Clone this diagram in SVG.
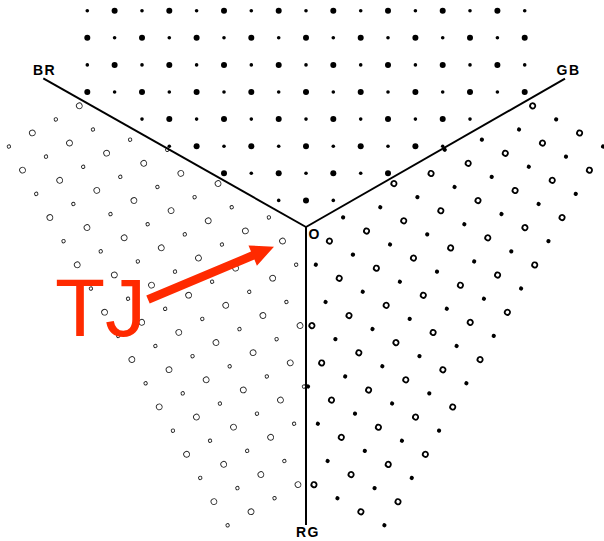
<svg xmlns="http://www.w3.org/2000/svg" width="604" height="541" viewBox="0 0 604 541">
<style>
.pts{fill:none;stroke:none}
.axis{stroke:#000;stroke-width:2;fill:none;stroke-linecap:butt}
.lbl{font-family:"Liberation Sans",Arial,sans-serif;font-weight:bold;font-size:14px;letter-spacing:1.5px;fill:#000}
.tj{font-family:"Liberation Sans",Arial,sans-serif;font-size:82px;fill:#ff2a00}
</style>
<defs>
<marker id="mTopBig" markerUnits="userSpaceOnUse" viewBox="0 0 10 10" refX="5" refY="5" markerWidth="10" markerHeight="10" overflow="visible"><circle cx="5" cy="5" r="3" fill="#000"/></marker>
<marker id="mTopSmall" markerUnits="userSpaceOnUse" viewBox="0 0 10 10" refX="5" refY="5" markerWidth="10" markerHeight="10" overflow="visible"><circle cx="5" cy="5" r="1.8" fill="#000"/></marker>
<marker id="mRBig" markerUnits="userSpaceOnUse" viewBox="0 0 10 10" refX="5" refY="5" markerWidth="10" markerHeight="10" overflow="visible"><circle cx="5" cy="5" r="2.6" fill="#fff" stroke="#000" stroke-width="1.8"/></marker>
<marker id="mRSmall" markerUnits="userSpaceOnUse" viewBox="0 0 10 10" refX="5" refY="5" markerWidth="10" markerHeight="10" overflow="visible"><circle cx="5" cy="5" r="2.1" fill="#000"/></marker>
<marker id="mLBig" markerUnits="userSpaceOnUse" viewBox="0 0 10 10" refX="5" refY="5" markerWidth="10" markerHeight="10" overflow="visible"><circle cx="5" cy="5" r="2.9" fill="#fff" stroke="#222" stroke-width="0.9"/></marker>
<marker id="mLSmall" markerUnits="userSpaceOnUse" viewBox="0 0 10 10" refX="5" refY="5" markerWidth="10" markerHeight="10" overflow="visible"><circle cx="5" cy="5" r="1.7" fill="#fff" stroke="#222" stroke-width="0.9"/></marker>
</defs>

<g id="region-top">
<path class="pts" marker-start="url(#mTopBig)" marker-mid="url(#mTopBig)" marker-end="url(#mTopBig)" d="M114.6 10.7 169.3 10.7 224 10.7 278.7 10.7 333.3 10.7 388 10.7 442.7 10.7 497.4 10.7 87.3 37.8 142 37.8 196.6 37.8 251.3 37.8 306 37.8 360.7 37.8 415.4 37.8 470 37.8 524.7 37.8 114.6 64.9 169.3 64.9 224 64.9 278.7 64.9 333.3 64.9 388 64.9 442.7 64.9 497.4 64.9 87.3 92 142 92 196.6 92 251.3 92 306 92 360.7 92 415.4 92 470 92 524.7 92 169.3 119.1 224 119.1 278.7 119.1 333.3 119.1 388 119.1 442.7 119.1 196.6 146.2 251.3 146.2 306 146.2 360.7 146.2 415.4 146.2 224 173.3 278.7 173.3 333.3 173.3 388 173.3 306 200.4"/>
<path class="pts" marker-start="url(#mTopSmall)" marker-mid="url(#mTopSmall)" marker-end="url(#mTopSmall)" d="M87.3 10.7 142 10.7 196.6 10.7 251.3 10.7 306 10.7 360.7 10.7 415.4 10.7 470 10.7 524.7 10.7 114.6 37.8 169.3 37.8 224 37.8 278.7 37.8 333.3 37.8 388 37.8 442.7 37.8 497.4 37.8 87.3 64.9 142 64.9 196.6 64.9 251.3 64.9 306 64.9 360.7 64.9 415.4 64.9 470 64.9 524.7 64.9 114.6 92 169.3 92 224 92 278.7 92 333.3 92 388 92 442.7 92 497.4 92 142 119.1 196.6 119.1 251.3 119.1 306 119.1 360.7 119.1 415.4 119.1 470 119.1 169.3 146.2 224 146.2 278.7 146.2 333.3 146.2 388 146.2 442.7 146.2 251.3 173.3 306 173.3 360.7 173.3 278.7 200.4 333.3 200.4"/>
</g>

<g id="region-right" transform="rotate(120 306 227.5)">
<path class="pts" marker-start="url(#mRBig)" marker-mid="url(#mRBig)" marker-end="url(#mRBig)" d="M114.6 10.7 169.3 10.7 224 10.7 278.7 10.7 333.3 10.7 388 10.7 442.7 10.7 497.4 10.7 87.3 37.8 142 37.8 196.6 37.8 251.3 37.8 306 37.8 360.7 37.8 415.4 37.8 470 37.8 524.7 37.8 114.6 64.9 169.3 64.9 224 64.9 278.7 64.9 333.3 64.9 388 64.9 442.7 64.9 497.4 64.9 87.3 92 142 92 196.6 92 251.3 92 306 92 360.7 92 415.4 92 470 92 524.7 92 169.3 119.1 224 119.1 278.7 119.1 333.3 119.1 388 119.1 442.7 119.1 196.6 146.2 251.3 146.2 306 146.2 360.7 146.2 415.4 146.2 224 173.3 278.7 173.3 333.3 173.3 388 173.3 306 200.4"/>
<path class="pts" marker-start="url(#mRSmall)" marker-mid="url(#mRSmall)" marker-end="url(#mRSmall)" d="M87.3 10.7 142 10.7 196.6 10.7 251.3 10.7 306 10.7 360.7 10.7 415.4 10.7 470 10.7 524.7 10.7 114.6 37.8 169.3 37.8 224 37.8 278.7 37.8 333.3 37.8 388 37.8 442.7 37.8 497.4 37.8 87.3 64.9 142 64.9 196.6 64.9 251.3 64.9 306 64.9 360.7 64.9 415.4 64.9 470 64.9 524.7 64.9 114.6 92 169.3 92 224 92 278.7 92 333.3 92 388 92 442.7 92 497.4 92 142 119.1 196.6 119.1 251.3 119.1 306 119.1 360.7 119.1 415.4 119.1 470 119.1 169.3 146.2 224 146.2 278.7 146.2 333.3 146.2 388 146.2 442.7 146.2 251.3 173.3 306 173.3 360.7 173.3 278.7 200.4 333.3 200.4"/>
</g>

<g id="region-left" transform="rotate(-120 306 227.5)">
<path class="pts" marker-start="url(#mLBig)" marker-mid="url(#mLBig)" marker-end="url(#mLBig)" d="M114.6 10.7 169.3 10.7 224 10.7 278.7 10.7 333.3 10.7 388 10.7 442.7 10.7 497.4 10.7 87.3 37.8 142 37.8 196.6 37.8 251.3 37.8 306 37.8 360.7 37.8 415.4 37.8 470 37.8 524.7 37.8 114.6 64.9 169.3 64.9 224 64.9 278.7 64.9 333.3 64.9 388 64.9 442.7 64.9 497.4 64.9 87.3 92 142 92 196.6 92 251.3 92 306 92 360.7 92 415.4 92 470 92 524.7 92 169.3 119.1 224 119.1 278.7 119.1 333.3 119.1 388 119.1 442.7 119.1 196.6 146.2 251.3 146.2 306 146.2 360.7 146.2 415.4 146.2 224 173.3 278.7 173.3 333.3 173.3 388 173.3 306 200.4"/>
<path class="pts" marker-start="url(#mLSmall)" marker-mid="url(#mLSmall)" marker-end="url(#mLSmall)" d="M87.3 10.7 142 10.7 196.6 10.7 251.3 10.7 306 10.7 360.7 10.7 415.4 10.7 470 10.7 524.7 10.7 114.6 37.8 169.3 37.8 224 37.8 278.7 37.8 333.3 37.8 388 37.8 442.7 37.8 497.4 37.8 87.3 64.9 142 64.9 196.6 64.9 251.3 64.9 306 64.9 360.7 64.9 415.4 64.9 470 64.9 524.7 64.9 114.6 92 169.3 92 224 92 278.7 92 333.3 92 388 92 442.7 92 497.4 92 142 119.1 196.6 119.1 251.3 119.1 306 119.1 360.7 119.1 415.4 119.1 470 119.1 169.3 146.2 224 146.2 278.7 146.2 333.3 146.2 388 146.2 442.7 146.2 251.3 173.3 306 173.3 360.7 173.3 278.7 200.4 333.3 200.4"/>
</g>

<g id="axes">
<line class="axis" x1="306" y1="227" x2="43.3" y2="78.3"/>
<line class="axis" x1="306" y1="227" x2="565" y2="78.7"/>
<line class="axis" x1="306" y1="226" x2="306" y2="525"/>
</g>

<g id="labels">
<text class="lbl" x="33" y="75">BR</text>
<text class="lbl" x="556.5" y="75">GB</text>
<text class="lbl" x="308.5" y="239">O</text>
<text class="lbl" x="296" y="537">RG</text>
</g>

<g id="tj-label">
<text class="tj" x="55" y="336">TJ</text>
<polygon fill="#ff2a00" points="146.3,295.5 251,251.6 248.5,245.5 274,246.7 256.9,265.7 254.4,259.6 149.7,303.5"/>
</g>
</svg>
